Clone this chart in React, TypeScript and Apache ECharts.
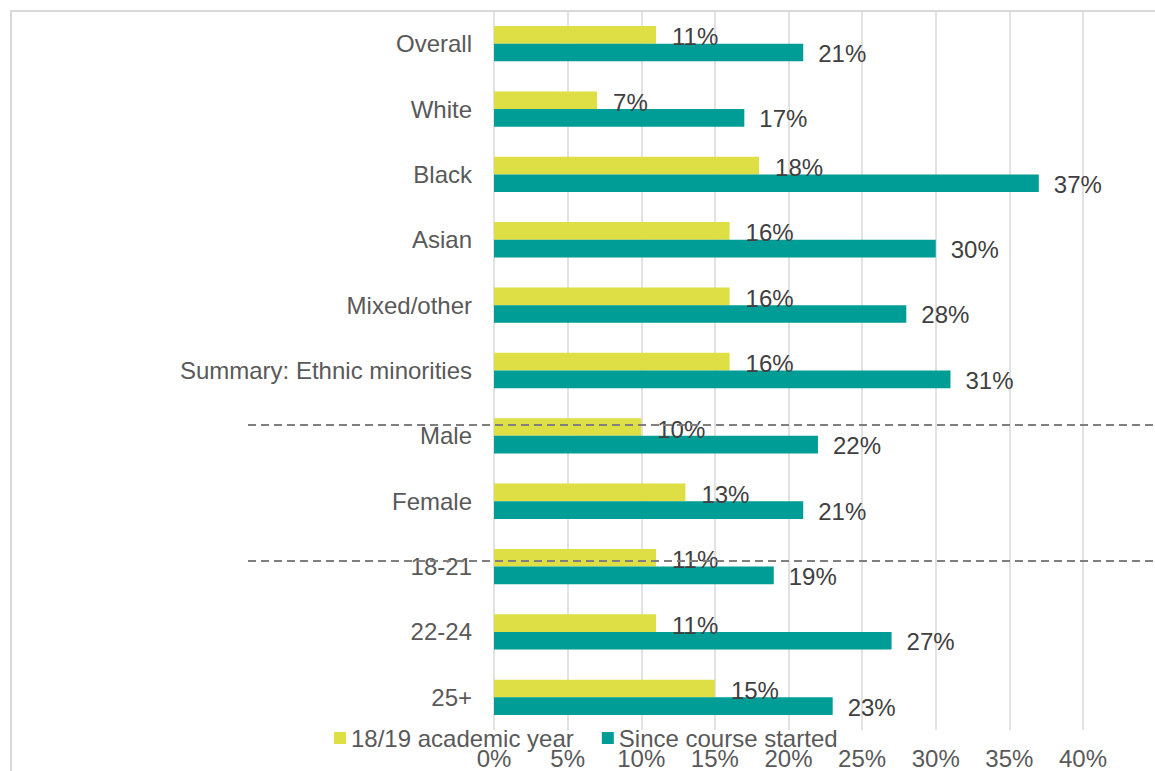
import React, { useEffect, useRef } from "react";
import * as echarts from "echarts";

const categories = [
  "Overall",
  "White",
  "Black",
  "Asian",
  "Mixed/other",
  "Summary: Ethnic minorities",
  "Male",
  "Female",
  "18-21",
  "22-24",
  "25+",
];
const academicYear = [11, 7, 18, 16, 16, 16, 10, 13, 11, 11, 15];
const sinceStarted = [21, 17, 37, 30, 28, 31, 22, 21, 19, 27, 23];
const seriesNames = ["18/19 academic year", "Since course started"];
const xTicks = [0, 5, 10, 15, 20, 25, 30, 35, 40];

const FONT = "'Liberation Sans', Arial, sans-serif";

export default function App() {
  const ref = useRef<HTMLDivElement>(null);
  useEffect(() => {
    if (!ref.current) return;
    const chart = echarts.init(ref.current, undefined, { renderer: "svg" });
    chart.setOption({
      animation: false,
      backgroundColor: "#ffffff",
      textStyle: { fontFamily: FONT },
      grid: { left: 494, right: 72, top: 11, bottom: 41, containLabel: false },
      legend: {
        left: 329,
        top: 721,
        itemWidth: 12,
        itemHeight: 12,
        itemGap: 28,
        icon: "rect",
        textStyle: { fontSize: 24, color: "#595959", fontFamily: FONT, lineHeight: 24 },
        data: seriesNames,
      },
      xAxis: {
        type: "value",
        min: xTicks[0],
        max: xTicks[xTicks.length - 1],
        interval: 5,
        axisLine: { show: false },
        axisTick: { show: false },
        splitLine: { lineStyle: { color: "#D9D9D9", width: 1.5 } },
        axisLabel: {
          formatter: "{value}%",
          fontSize: 24,
          color: "#595959",
          margin: 16,
          lineHeight: 24,
          fontFamily: FONT,
        },
      },
      yAxis: {
        type: "category",
        inverse: true,
        data: categories,
        axisLine: { show: false },
        axisTick: { show: false },
        axisLabel: { fontSize: 24, color: "#595959", margin: 22, fontFamily: FONT },
      },
      series: [
        {
          name: seriesNames[0],
          type: "bar",
          data: academicYear,
          barGap: "0%",
          barCategoryGap: "46%",
          itemStyle: { color: "#DEDE45" },
          label: {
            show: true,
            position: "right",
            distance: 16,
            offset: [0, 2],
            formatter: "{c}%",
            fontSize: 24,
            color: "#404040",
            fontFamily: FONT,
          },
        },
        {
          name: seriesNames[1],
          type: "bar",
          data: sinceStarted,
          barGap: "0%",
          barCategoryGap: "46%",
          itemStyle: { color: "#009C96" },
          label: {
            show: true,
            position: "right",
            distance: 15,
            offset: [0, 1],
            formatter: "{c}%",
            fontSize: 24,
            color: "#404040",
            fontFamily: FONT,
          },
        },
      ],
      graphic: [
        {
          type: "rect",
          shape: { x: 11, y: 11, width: 1300, height: 900 },
          style: { fill: "none", stroke: "#D9D9D9", lineWidth: 2 },
          z: 0,
          silent: true,
        },
        {
          type: "line",
          shape: { x1: 248, y1: 425, x2: 1155, y2: 425 },
          style: { stroke: "#7F7F7F", lineWidth: 2, lineDash: [8, 5] },
          z: 100,
          silent: true,
        },
        {
          type: "line",
          shape: { x1: 248, y1: 561, x2: 1155, y2: 561 },
          style: { stroke: "#7F7F7F", lineWidth: 2, lineDash: [8, 5] },
          z: 100,
          silent: true,
        },
      ],
    });
    return () => chart.dispose();
  }, []);
  return (
    <div
      ref={ref}
      style={{ width: 1155, height: 771, position: "absolute", left: 0, top: 0 }}
    />
  );
}
